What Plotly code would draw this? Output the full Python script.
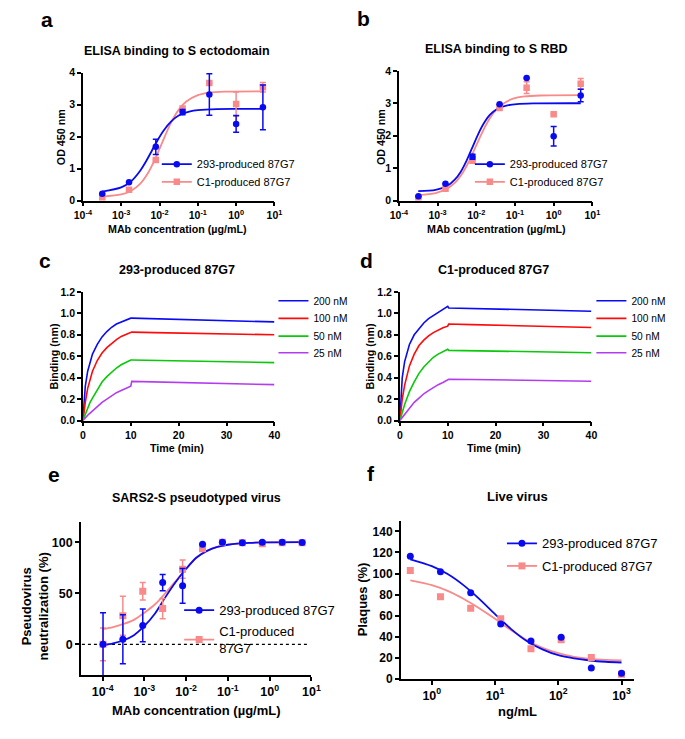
import plotly.graph_objects as go

# ---------------- data ----------------
# a / b : ELISA (MAb concentration, ug/mL)
elisa_conc = [0.00032, 0.0016, 0.008, 0.04, 0.2, 1, 5]
a_293 = [0.21, 0.57, 1.68, 2.77, 3.32, 2.40, 2.92]
a_293_err = [0, 0, 0.24, 0.08, 0.65, 0.26, 0.70]
a_c1 = [0.08, 0.34, 1.27, 2.88, 3.68, 3.02, 3.55]
a_c1_err = [0, 0, 0, 0, 0, 0.38, 0.15]
a_fit_293_logx = [-3.5, -3.0, -2.75, -2.5, -2.35, -2.2, -2.05, -1.9, -1.7, -1.5, -1.2, -1.0, -0.5, 0, 0.7]
a_fit_293 = [0.28, 0.41, 0.59, 0.94, 1.23, 1.56, 1.89, 2.18, 2.47, 2.66, 2.79, 2.83, 2.865, 2.87, 2.87]
a_fit_c1_logx = [-3.5, -3.0, -2.75, -2.5, -2.3, -2.15, -2.0, -1.85, -1.7, -1.5, -1.3, -1.0, -0.7, -0.3, 0.7]
a_fit_c1 = [0.12, 0.19, 0.30, 0.53, 0.86, 1.21, 1.62, 2.04, 2.44, 2.84, 3.10, 3.30, 3.38, 3.41, 3.42]

b_293 = [0.13, 0.52, 1.35, 2.97, 3.78, 1.98, 3.24]
b_293_err = [0, 0, 0.08, 0, 0, 0.30, 0.19]
b_c1 = [0.07, 0.36, 1.23, 2.85, 3.48, 2.66, 3.60]
b_c1_err = [0, 0, 0, 0, 0.18, 0, 0.16]
b_fit_293_logx = [-3.5, -3.05, -2.75, -2.55, -2.4, -2.25, -2.1, -1.95, -1.8, -1.65, -1.45, -1.25, -0.95, -0.5, 0.7]
b_fit_293 = [0.29, 0.33, 0.45, 0.65, 0.89, 1.23, 1.64, 2.05, 2.39, 2.64, 2.83, 2.92, 2.975, 2.995, 3.0]
b_fit_c1_logx = [-3.5, -3.05, -2.75, -2.55, -2.35, -2.2, -2.05, -1.9, -1.75, -1.55, -1.35, -1.05, -0.75, -0.35, 0.7]
b_fit_c1 = [0.165, 0.23, 0.37, 0.55, 0.86, 1.18, 1.57, 1.96, 2.33, 2.71, 2.95, 3.14, 3.21, 3.24, 3.25]

# c / d : BLI kinetics (time in min, binding in nm)
bli_t = [0, 0.25, 0.5, 1, 1.5, 2, 3, 4, 5, 6, 7, 8, 9, 10, 10.2, 15, 20, 25, 30, 35, 40]
bli_labels = ["200 nM", "100 nM", "50 nM", "25 nM"]
c_200 = [0, 0.2, 0.32, 0.46, 0.55, 0.62, 0.71, 0.78, 0.83, 0.87, 0.9, 0.92, 0.94, 0.955, 0.955, 0.95, 0.945, 0.94, 0.935, 0.928, 0.92]
c_100 = [0, 0.1, 0.17, 0.3, 0.39, 0.46, 0.56, 0.63, 0.68, 0.72, 0.755, 0.785, 0.805, 0.825, 0.825, 0.82, 0.815, 0.81, 0.806, 0.802, 0.80]
c_50 = [0, 0.03, 0.06, 0.12, 0.17, 0.21, 0.29, 0.36, 0.41, 0.45, 0.49, 0.52, 0.545, 0.565, 0.565, 0.56, 0.555, 0.55, 0.547, 0.543, 0.54]
c_25 = [0, 0.015, 0.03, 0.05, 0.07, 0.09, 0.13, 0.17, 0.2, 0.23, 0.26, 0.28, 0.30, 0.32, 0.365, 0.36, 0.355, 0.35, 0.345, 0.34, 0.335]
d_200 = [0, 0.25, 0.4, 0.55, 0.64, 0.71, 0.8, 0.86, 0.91, 0.95, 0.98, 1.01, 1.035, 1.065, 1.05, 1.045, 1.04, 1.035, 1.03, 1.025, 1.02]
d_100 = [0, 0.12, 0.2, 0.33, 0.43, 0.51, 0.62, 0.7, 0.75, 0.79, 0.82, 0.845, 0.865, 0.88, 0.90, 0.895, 0.89, 0.885, 0.878, 0.873, 0.868]
d_50 = [0, 0.04, 0.08, 0.15, 0.21, 0.27, 0.36, 0.44, 0.5, 0.55, 0.59, 0.62, 0.645, 0.665, 0.655, 0.652, 0.649, 0.645, 0.641, 0.637, 0.633]
d_25 = [0, 0.015, 0.03, 0.06, 0.09, 0.12, 0.17, 0.21, 0.25, 0.28, 0.31, 0.335, 0.355, 0.375, 0.385, 0.383, 0.38, 0.377, 0.373, 0.37, 0.367]

# e : pseudovirus neutralization
e_conc = [1.02e-4, 3.05e-4, 9.14e-4, 2.74e-3, 8.23e-3, 0.0247, 0.074, 0.222, 0.667, 2, 6]
e_293 = [0, 5, 18.5, 60.5, 57.3, 98, 100, 99.4, 100, 100, 99.7]
e_293_err = [31, 24, 16, 8, 17, 0, 0, 0, 0, 0, 0]
e_c1 = [0, 28, 52, 35, 73.6, 93.6, 100, 99.4, 98.4, 99.4, 99.4]
e_c1_err = [16, 19, 8.5, 10, 9, 0, 0, 0, 0, 0, 0]
e_fit_logx = [-4, -3.75, -3.5, -3.25, -3.0, -2.75, -2.5, -2.25, -2.0, -1.75, -1.5, -1.25, -1.0, -0.5, 0, 0.78]
e_fit_293 = [-1, 1, 4, 9, 18, 30, 46, 61, 74, 85, 91.5, 95.5, 97.5, 99.3, 99.8, 100]
e_fit_c1 = [15, 17, 20, 24, 31, 39, 50, 62, 74, 85, 91.5, 95.5, 97.5, 99.3, 99.8, 100]

# f : live virus plaque reduction (ng/mL)
f_conc = [0.457, 1.37, 4.12, 12.3, 37, 111, 333, 1000]
f_293 = [116.3, 101.6, 81.7, 52, 35.9, 39.6, 10.3, 5.3]
f_c1 = [102.9, 78, 67, 57, 28.7, 37.1, 20.3, 4.5]
f_fit_logx = [-0.34, 0, 0.25, 0.5, 0.75, 1.0, 1.25, 1.5, 1.75, 2.0, 2.25, 2.5, 2.75, 3.0]
f_fit_293 = [113.5, 107, 99.5, 89, 76, 61.5, 47.5, 36, 28, 22.5, 19.5, 17.5, 16.3, 15.6]
f_fit_c1 = [93.5, 89, 83.5, 76, 67, 57, 46.5, 37, 29.5, 24.5, 21, 19, 18, 17.5]

series_names = ["293-produced 87G7", "C1-produced 87G7"]
log_tick_exps = [-4, -3, -2, -1, 0, 1]
f_tick_exps = [0, 1, 2, 3]

# ---------------- style ----------------
W, H = 685, 739
FONT = "Arial, Liberation Sans, sans-serif"
BLUE = "#0A0AF0"
PINK = "#F98A8A"
BLI_COLORS = ["#0A0AF5", "#FF0A0A", "#0AC80A", "#B43CF0"]


def xd(l, r):
    return [l / W, r / W]


def yd(t, b):
    return [1 - b / H, 1 - t / H]


def px(x):
    return x / W


def py(y):
    return 1 - y / H


def sup(e):
    return "10<sup>%s</sup>" % e


fig = go.Figure()
legends = {}
_leg_count = [0]


def new_legend(text_x, cy, size, **kw):
    _leg_count[0] += 1
    n = _leg_count[0]
    lid = "legend" if n == 1 else "legend%d" % n
    d = dict(x=px(text_x - 40), y=py(cy), xanchor="left", yanchor="middle", bgcolor="rgba(0,0,0,0)",
             borderwidth=0, font=dict(family=FONT, size=size, color="black"))
    d.update(kw)
    legends[lid] = d
    return lid


def add_dose(ax, conc, y293, e293, yc1, ec1, fx293, fy293, fxc1, fyc1, leg_specs, msize=6.5):
    xa, ya = ("x", "y") if ax == 1 else ("x%d" % ax, "y%d" % ax)
    fig.add_trace(go.Scatter(x=[10 ** v for v in fxc1], y=fyc1, mode="lines",
                             line=dict(color=PINK, width=1.8, shape="spline", smoothing=0.8),
                             xaxis=xa, yaxis=ya, showlegend=False, hoverinfo="skip"))
    fig.add_trace(go.Scatter(x=[10 ** v for v in fx293], y=fy293, mode="lines",
                             line=dict(color=BLUE, width=1.8, shape="spline", smoothing=0.8),
                             xaxis=xa, yaxis=ya, showlegend=False, hoverinfo="skip"))
    fig.add_trace(go.Scatter(x=conc, y=yc1, mode="markers", marker=dict(symbol="square", size=msize, color=PINK),
                             error_y=dict(type="data", array=ec1, color=PINK, thickness=1.5, width=3) if ec1 else None,
                             xaxis=xa, yaxis=ya, showlegend=False))
    fig.add_trace(go.Scatter(x=conc, y=y293, mode="markers", marker=dict(symbol="circle", size=msize, color=BLUE),
                             error_y=dict(type="data", array=e293, color=BLUE, thickness=1.5, width=3) if e293 else None,
                             xaxis=xa, yaxis=ya, showlegend=False))
    for (name, lid), col, sym in zip(leg_specs, [BLUE, PINK], ["circle", "square"]):
        fig.add_trace(go.Scatter(x=[None], y=[None], mode="lines+markers", name=name,
                                 line=dict(color=col, width=1.8), marker=dict(symbol=sym, size=msize, color=col),
                                 xaxis=xa, yaxis=ya, legend=lid))


add_dose(1, elisa_conc, a_293, a_293_err, a_c1, a_c1_err, a_fit_293_logx, a_fit_293, a_fit_c1_logx, a_fit_c1,
         [(series_names[0], new_legend(192, 161, 11)), (series_names[1], new_legend(192, 179, 11))])
add_dose(2, elisa_conc, b_293, b_293_err, b_c1, b_c1_err, b_fit_293_logx, b_fit_293, b_fit_c1_logx, b_fit_c1,
         [(series_names[0], new_legend(514, 161, 11)), (series_names[1], new_legend(514, 179, 11))])
add_dose(5, e_conc, e_293, e_293_err, e_c1, e_c1_err, e_fit_logx, e_fit_293, e_fit_logx, e_fit_c1,
         [(series_names[0], new_legend(215, 615, 13)), ("C1-produced<br>87G7", new_legend(215, 645, 13, valign="middle"))], msize=7)
add_dose(6, f_conc, f_293, None, f_c1, None, f_fit_logx, f_fit_293, f_fit_logx, f_fit_c1,
         [(series_names[0], new_legend(547, 547, 13)), (series_names[1], new_legend(547, 570, 13))], msize=7)

bli_rows = [300, 318, 336, 353]
for ax, series, tx in [(3, [c_200, c_100, c_50, c_25], 312), (4, [d_200, d_100, d_50, d_25], 639)]:
    for lab, col, ys, ry in zip(bli_labels, BLI_COLORS, series, bli_rows):
        fig.add_trace(go.Scatter(x=bli_t, y=ys, mode="lines", name=lab, line=dict(color=col, width=1.6),
                                 xaxis="x%d" % ax, yaxis="y%d" % ax, legend=new_legend(tx, ry, 10.2)))

axis_common = dict(showline=True, linecolor="black", linewidth=1.6, ticks="outside", ticklen=4, tickwidth=1.5,
                   tickcolor="black", showgrid=False, zeroline=False, mirror=False)


def logx(dom, rng, exps, fs=10.5):
    d = dict(axis_common)
    d.update(type="log", domain=dom, range=rng, tickvals=[10 ** e for e in exps], ticktext=[sup(e) for e in exps],
             tickfont=dict(family=FONT, size=fs, color="black", weight="bold"))
    return d


def liny(dom, rng, tickvals, fs=10.5, **kw):
    d = dict(axis_common)
    d.update(domain=dom, range=rng, tickvals=tickvals, tickfont=dict(family=FONT, size=fs, color="black", weight="bold"))
    d.update(kw)
    return d


lay = dict(
    width=W, height=H, margin=dict(l=0, r=0, t=0, b=0), plot_bgcolor="white", paper_bgcolor="white",
    font=dict(family=FONT, color="black"),
    xaxis=dict(logx(xd(76, 273), [-4, 1], log_tick_exps), anchor="y"),
    yaxis=dict(liny(yd(68, 198), [0, 4], [0, 1, 2, 3, 4]), anchor="x"),
    xaxis2=dict(logx(xd(401, 600), [-4, 1], log_tick_exps), anchor="y2"),
    yaxis2=dict(liny(yd(66, 198), [0, 4], [0, 1, 2, 3, 4]), anchor="x2"),
    xaxis3=dict(liny(xd(76, 273), [0, 40], [0, 10, 20, 30, 40]), anchor="y3"),
    yaxis3=dict(liny(yd(291, 422), [0, 1.2], [0, 0.2, 0.4, 0.6, 0.8, 1.0, 1.2], tickformat=".1f"), anchor="x3"),
    xaxis4=dict(liny(xd(402, 599), [0, 40], [0, 10, 20, 30, 40]), anchor="y4"),
    yaxis4=dict(liny(yd(291, 422), [0, 1.2], [0, 0.2, 0.4, 0.6, 0.8, 1.0, 1.2], tickformat=".1f"), anchor="x4"),
    xaxis5=dict(logx(xd(74, 311), [-4.52, 1.0], log_tick_exps, fs=12.5), anchor="y5"),
    yaxis5=dict(liny(yd(525, 681), [-30, 120], [0, 50, 100], fs=12.5), anchor="x5"),
    xaxis6=dict(logx(xd(403, 643), [-0.49, 3.2], f_tick_exps, fs=12.5), anchor="y6"),
    yaxis6=dict(liny(yd(524, 685), [0, 150], [0, 20, 40, 60, 80, 100, 120, 140], fs=12), anchor="x6"),
)
lay.update(legends)
fig.update_layout(**lay)

ann = []


def text(x, y, s, size, bold=True, angle=0):
    ann.append(dict(x=px(x), y=py(y), xref="paper", yref="paper", text=s, showarrow=False, textangle=angle,
                    xanchor="center", yanchor="middle",
                    font=dict(family=FONT, size=size, color="black", weight="bold" if bold else "normal")))


# panel letters
for (x, y, s) in [(39, 14, "a"), (365, 13, "b"), (37, 259, "c"), (368, 259, "d"), (46, 477, "e"), (372, 476, "f")]:
    text(x, y, s, 21)
# titles
text(173, 46, "ELISA binding to S ectodomain", 12.5)
text(501, 44, "ELISA binding to S RBD", 12.5)
text(173, 269, "293-produced 87G7", 12.5)
text(498, 269, "C1-produced 87G7", 12.5)
text(193, 501, "SARS2-S pseudotyped virus", 12.5)
text(523, 499, "Live virus", 13)
# x axis titles
text(173, 227, "MAb concentration (µg/mL)", 10.7)
text(501, 227, "MAb concentration (µg/mL)", 10.7)
text(173, 450, "Time (min)", 10.7)
text(499, 450, "Time (min)", 10.7)
text(193, 717, "MAb concentration (µg/mL)", 13)
text(523, 718, "ng/mL", 13)
# y axis titles
text(53, 134, "OD 450 nm", 10.7, angle=-90)
text(382, 133, "OD 450 nm", 10.7, angle=-90)
text(46, 357, "Binding (nm)", 10.7, angle=-90)
text(371, 357, "Binding (nm)", 10.7, angle=-90)
text(27, 611, "Pseudovirus<br>neutralization (%)", 13, angle=-90)
text(363, 604, "Plaques (%)", 13, angle=-90)

fig.update_layout(annotations=ann)

# dotted zero line in panel e
fig.add_shape(type="line", xref="paper", yref="y5", x0=px(75), x1=px(308), y0=0, y1=0,
              line=dict(color="black", width=1.3, dash="dot"), layer="below")

fig.write_html("out.html", config={"displayModeBar": False},
               post_script="document.body.style.margin='0px';document.body.style.overflow='hidden';")
